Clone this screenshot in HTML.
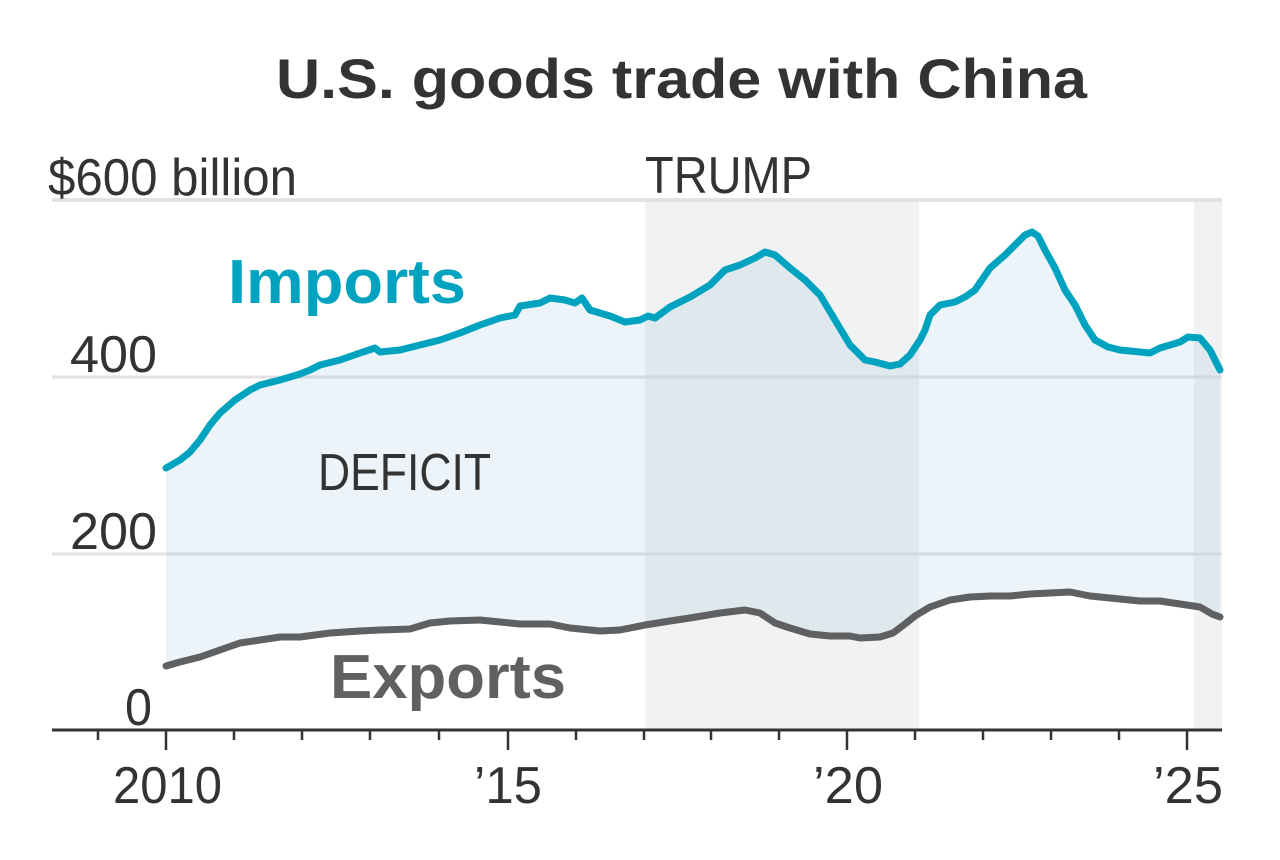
<!DOCTYPE html>
<html><head><meta charset="utf-8"><style>
body{margin:0;background:#fff;}
svg text{font-family:"Liberation Sans Narrow","Liberation Sans",sans-serif;}
</style></head><body>
<svg width="1280" height="855" viewBox="0 0 1280 855" xmlns="http://www.w3.org/2000/svg">
<rect width="1280" height="855" fill="#fff"/>
<text x="276" y="98" font-size="56" font-weight="bold" fill="#333" style="font-family:'Liberation Sans',sans-serif" textLength="811" lengthAdjust="spacingAndGlyphs">U.S. goods trade with China</text>
<rect x="645" y="200" width="274" height="530" fill="#f1f2f3"/>
<rect x="1194" y="200" width="28" height="530" fill="#f1f2f3"/>
<line x1="52" y1="200" x2="1222" y2="200" stroke="#e2e2e2" stroke-width="4"/>
<line x1="52" y1="377" x2="1222" y2="377" stroke="#e2e2e2" stroke-width="3"/>
<line x1="52" y1="554" x2="1222" y2="554" stroke="#e2e2e2" stroke-width="3"/>
<polygon fill="rgba(0,110,170,0.075)" points="166,468 180,460 190,452 200,440 210,425 220,413 235,400 250,390 260,385 280,380 300,374 310,370 320,365 340,360 360,353 375,348 380,352 400,350 420,345 440,340 460,333 480,325 500,318 515,315 520,306 540,303 550,298 565,300 575,303 582,298 590,310 610,316 625,322 640,320 648,316 655,318 670,307 690,297 710,285 725,270 740,265 755,258 765,252 775,255 790,268 805,280 820,295 835,320 850,345 865,360 875,362 890,366 900,364 910,355 920,340 925,330 930,315 940,305 955,302 965,297 975,290 990,268 1005,255 1015,245 1025,235 1032,232 1038,236 1045,250 1055,268 1065,290 1075,305 1085,325 1095,340 1108,347 1120,350 1140,352 1150,353 1160,348 1170,345 1180,342 1188,337 1200,338 1210,350 1220,370 1220,617 1212,614 1200,607 1180,604 1160,601 1140,601 1110,598 1090,596 1070,592 1050,593 1030,594 1010,596 990,596 970,597 950,600 930,607 915,616 905,624 893,633 880,637 860,638 850,636 830,636 810,634 790,628 775,623 760,613 745,610 720,613 690,618 670,621 645,625 620,630 600,631 570,628 550,624 520,624 500,622 480,620 450,621 430,623 410,629 380,630 360,631 330,633 300,637 280,637 260,640 240,643 220,650 200,657 180,662 166,666"/>
<polyline fill="none" stroke="#00a3bf" stroke-width="7" stroke-linejoin="round" stroke-linecap="round" points="166,468 180,460 190,452 200,440 210,425 220,413 235,400 250,390 260,385 280,380 300,374 310,370 320,365 340,360 360,353 375,348 380,352 400,350 420,345 440,340 460,333 480,325 500,318 515,315 520,306 540,303 550,298 565,300 575,303 582,298 590,310 610,316 625,322 640,320 648,316 655,318 670,307 690,297 710,285 725,270 740,265 755,258 765,252 775,255 790,268 805,280 820,295 835,320 850,345 865,360 875,362 890,366 900,364 910,355 920,340 925,330 930,315 940,305 955,302 965,297 975,290 990,268 1005,255 1015,245 1025,235 1032,232 1038,236 1045,250 1055,268 1065,290 1075,305 1085,325 1095,340 1108,347 1120,350 1140,352 1150,353 1160,348 1170,345 1180,342 1188,337 1200,338 1210,350 1220,370"/>
<polyline fill="none" stroke="#5f6062" stroke-width="7" stroke-linejoin="round" stroke-linecap="round" points="166,666 180,662 200,657 220,650 240,643 260,640 280,637 300,637 330,633 360,631 380,630 410,629 430,623 450,621 480,620 500,622 520,624 550,624 570,628 600,631 620,630 645,625 670,621 690,618 720,613 745,610 760,613 775,623 790,628 810,634 830,636 850,636 860,638 880,637 893,633 905,624 915,616 930,607 950,600 970,597 990,596 1010,596 1030,594 1050,593 1070,592 1090,596 1110,598 1140,601 1160,601 1180,604 1200,607 1212,614 1220,617"/>
<line x1="52" y1="730" x2="1222" y2="730" stroke="#333" stroke-width="3"/>
<g stroke="#333" stroke-width="2.5">
<line x1="98" y1="730" x2="98" y2="740"/>
<line x1="166" y1="730" x2="166" y2="750"/><line x1="234" y1="730" x2="234" y2="740"/><line x1="302" y1="730" x2="302" y2="740"/><line x1="370" y1="730" x2="370" y2="740"/><line x1="439" y1="730" x2="439" y2="740"/>
<line x1="508" y1="730" x2="508" y2="750"/><line x1="576" y1="730" x2="576" y2="740"/><line x1="644" y1="730" x2="644" y2="740"/><line x1="711" y1="730" x2="711" y2="740"/><line x1="779" y1="730" x2="779" y2="740"/>
<line x1="847" y1="730" x2="847" y2="750"/><line x1="915" y1="730" x2="915" y2="740"/><line x1="983" y1="730" x2="983" y2="740"/><line x1="1051" y1="730" x2="1051" y2="740"/><line x1="1119" y1="730" x2="1119" y2="740"/>
<line x1="1187" y1="730" x2="1187" y2="750"/>
</g>
<g font-size="52" fill="#333" style="font-weight:normal">
<text x="113" y="803" textLength="109" lengthAdjust="spacingAndGlyphs">2010</text>
<text x="474" y="803" textLength="68" lengthAdjust="spacingAndGlyphs">’15</text>
<text x="813" y="803" textLength="70" lengthAdjust="spacingAndGlyphs">’20</text>
<text x="1153" y="803" textLength="70" lengthAdjust="spacingAndGlyphs">’25</text>
<text x="48" y="195" textLength="249" lengthAdjust="spacingAndGlyphs">$600 billion</text>
<text x="70" y="372" textLength="87" lengthAdjust="spacingAndGlyphs">400</text>
<text x="70" y="549" textLength="87" lengthAdjust="spacingAndGlyphs">200</text>
<text x="125" y="725" textLength="27" lengthAdjust="spacingAndGlyphs">0</text>
<text x="645" y="193" textLength="167" lengthAdjust="spacingAndGlyphs">TRUMP</text>
<text x="318" y="490" textLength="173" lengthAdjust="spacingAndGlyphs">DEFICIT</text>
</g>
<text x="228" y="303" font-size="62" font-weight="bold" fill="#00a3bf" textLength="238" lengthAdjust="spacingAndGlyphs">Imports</text>
<text x="330" y="698" font-size="62" font-weight="bold" fill="#5f6062" textLength="236" lengthAdjust="spacingAndGlyphs">Exports</text>
</svg>
</body></html>
